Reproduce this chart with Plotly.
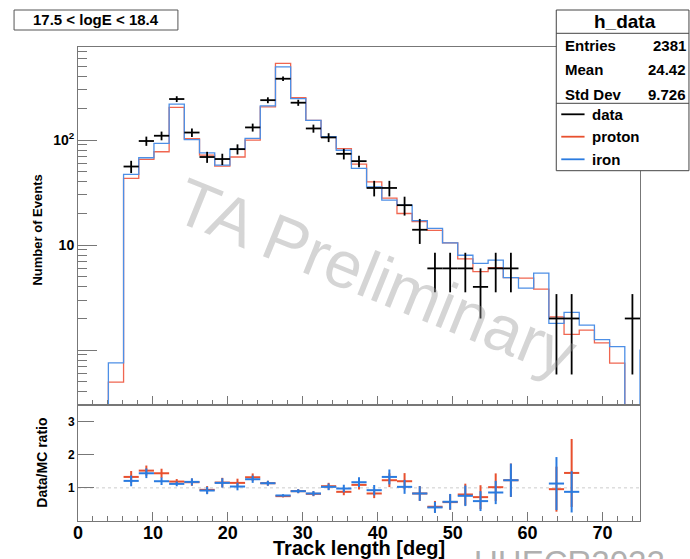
import numpy as np
import plotly.graph_objects as go

# ---------------- data ----------------
n_bins = 37
x_min, x_max = 0.0, 75.0

data_counts = [0, 0, 0, 56, 98, 110, 246, 118, 69, 66, 82, 132, 240, 384, 227, 129,
               106, 74, 63, 35, 35, 24, 14, 6, 6, 6, 4, 6, 6, 0, 0, 2, 2, 0, 0, 0, 2]

# MC histograms (last entry = bin just beyond the axis range)
proton = [0, 0, 0.495, 43.2, 65.5, 77.4, 205, 103, 72, 56.6, 69, 100, 207, 537, 253, 154,
          106, 83, 59, 40, 28, 20, 16.7, 13.8, 10.5, 7.4, 5.6, 6.1, 4.9, 4.85, 3.8, 2.07,
          1.41, 1.55, 1.17, 0.75, 0, 0]
iron = [0, 0, 0.757, 47.1, 67.9, 93, 220, 101, 75.7, 57.8, 82, 104, 212, 499, 248, 154,
        108, 80, 53.7, 35.9, 26.8, 24, 17.1, 14.4, 10.5, 8.0, 6.7, 7.2, 4.9, 3.9, 5.4, 1.8,
        2.29, 1.73, 1.26, 1.08, 0, 1.0]

ratio_proton = [None, None, None, 1.33, 1.52, 1.44, 1.19, 1.17, 0.94, 1.16, 1.15, 1.32, 1.14,
                0.75, 0.90, 0.82, 1.05, 0.88, 1.09, 0.83, 1.23, 1.20, 0.83, 0.43, 0.57, 0.80,
                0.72, 1.02, 1.23, None, None, 0.96, 1.45, None, None, None, None]
ratio_iron = [None, None, None, 1.21, 1.44, 1.20, 1.12, 1.18, 0.92, 1.15, 1.04, 1.26, 1.14,
              0.77, 0.90, 0.83, 1.03, 0.98, 1.17, 0.93, 1.33, 1.03, 0.83, 0.41, 0.58, 0.76,
              0.60, 0.86, 1.23, None, None, 1.13, 0.88, None, None, None, None]

energy_label = "17.5 < logE < 18.4"
stats_title = "h_data"
stats_labels = ["Entries", "Mean", "Std Dev"]
stats_values = ["2381", "24.42", "9.726"]
legend_labels = ["data", "proton", "iron"]
x_title = "Track length [deg]"
y_title_main = "Number of Events"
y_title_ratio = "Data/MC ratio"
watermark = "TA Preliminary"
conference = "UHECR2022"

# ---------------- styles ----------------
FONT = "Liberation Sans, Arial, Helvetica, sans-serif"
RED_H = "#f06650"
BLUE_H = "#4d8fe6"
RED_R = "#e8502e"
BLUE_R = "#2a7be0"
FRAME = "#777777"

W, H = 690, 559
L, R, T, B = 78, 49.5, 47, 38
PW, PH = W - L - R, H - T - B
split = 116 / PH


def px(x):
    return (x - L) / PW


def py(y):
    return (H - B - y) / PH


bw = (x_max - x_min) / n_bins
edges = x_min + bw * np.arange(len(proton) + 1)
centers = x_min + bw * (np.arange(n_bins) + 0.5)
floor = 1e-3

fig = go.Figure()

# MC step histograms
for vals, col, name in [(proton, RED_H, "proton"), (iron, BLUE_H, "iron")]:
    yv = [v if v > 0 else floor for v in vals]
    yv = yv + [yv[-1]]
    fig.add_trace(go.Scatter(x=edges, y=yv, mode="lines", line=dict(color=col, width=1.3, shape="hv"),
                             name=name, showlegend=False, xaxis="x", yaxis="y", hoverinfo="skip"))

# data crosses
dc = np.array(data_counts, dtype=float)
mask = dc > 0
fig.add_trace(go.Scatter(
    x=centers[mask], y=dc[mask], mode="markers", marker=dict(size=1, color="black"),
    error_y=dict(type="data", array=np.sqrt(dc[mask]), thickness=1.8, width=0, color="black"),
    error_x=dict(type="data", array=np.full(mask.sum(), bw / 2), thickness=1.8, width=0, color="black"),
    showlegend=False, xaxis="x", yaxis="y"))

# ratio crosses (red first, blue on top)
for rat, col in [(ratio_proton, RED_R), (ratio_iron, BLUE_R)]:
    xs, ys, es = [], [], []
    for k, r in enumerate(rat):
        if r is None:
            continue
        xs.append(centers[k])
        ys.append(r)
        es.append(r / np.sqrt(data_counts[k]))
    fig.add_trace(go.Scatter(
        x=xs, y=ys, mode="markers", marker=dict(size=1, color=col),
        error_y=dict(type="data", array=es, thickness=2, width=0, color=col),
        error_x=dict(type="data", array=[bw / 2] * len(xs), thickness=2, width=0, color=col),
        showlegend=False, xaxis="x2", yaxis="y2"))

minor_main = [m * 10.0 ** e for e in (-1, 0, 1, 2) for m in range(2, 10)]

fig.update_layout(
    width=W, height=H, margin=dict(l=L, r=R, t=T, b=B, pad=0),
    paper_bgcolor="white", plot_bgcolor="white", showlegend=False,
    font=dict(family=FONT, color="black"),
    xaxis=dict(domain=[0, 1], anchor="y", range=[x_min, x_max], showticklabels=False,
               showline=True, linecolor=FRAME, linewidth=1, mirror=True, showgrid=False, zeroline=False,
               ticks="inside", ticklen=9, tickcolor=FRAME, dtick=10, tick0=0,
               minor=dict(ticks="inside", ticklen=5, dtick=2, tick0=0, tickcolor=FRAME)),
    yaxis=dict(domain=[split, 1], anchor="x", type="log", range=[np.log10(0.3), np.log10(770)],
               showline=True, linecolor=FRAME, linewidth=1, mirror=True, showgrid=False, zeroline=False,
               tickmode="array", tickvals=[1, 10, 100], ticktext=["", "10", "10<sup>2</sup>"],
               ticks="inside", ticklen=19, tickcolor=FRAME,
               tickfont=dict(size=14, family=FONT, weight="bold"),
               minor=dict(ticks="inside", ticklen=9, tickmode="array", tickvals=minor_main, tickcolor=FRAME)),
    xaxis2=dict(domain=[0, 1], anchor="y2", matches="x", range=[x_min, x_max],
                showline=True, linecolor=FRAME, linewidth=1, mirror=True, showgrid=False, zeroline=False,
                ticks="inside", ticklen=9, tickcolor=FRAME, dtick=10, tick0=0,
                ticklabelstandoff=-5,
                tickfont=dict(size=18, family=FONT, weight="bold"),
                minor=dict(ticks="inside", ticklen=5, dtick=2, tick0=0, tickcolor=FRAME)),
    yaxis2=dict(domain=[0, split], anchor="x2", range=[0, 3.5],
                showline=True, linecolor=FRAME, linewidth=1, mirror=True, showgrid=False, zeroline=False,
                tickmode="array", tickvals=[1, 2, 3], ticks="inside", ticklen=16, tickcolor=FRAME,
                tickfont=dict(size=12, family=FONT, weight="bold")),
)

# dotted line at ratio 1
fig.add_shape(type="line", xref="x2", yref="y2", x0=x_min, x1=x_max, y0=1, y1=1,
              line=dict(color="#cccccc", width=1, dash="dot"), layer="below")

# energy label box
fig.add_shape(type="rect", xref="paper", yref="paper", x0=px(14), x1=px(178), y0=py(30), y1=py(10),
              line=dict(color="#555", width=1), fillcolor="white")
fig.add_annotation(x=px(96), y=py(20), xref="paper", yref="paper", text=energy_label, showarrow=False,
                   font=dict(size=15, family=FONT, weight="bold"), xanchor="center", yanchor="middle")

# stats box + legend
bx0, bx1 = 556.7, 689.5
fig.add_shape(type="rect", xref="paper", yref="paper", x0=px(bx0), x1=px(bx1), y0=py(170.7), y1=py(10),
              line=dict(color="#444", width=1), fillcolor="white", layer="above")
for yy in (33.3, 103.3):
    fig.add_shape(type="line", xref="paper", yref="paper", x0=px(bx0), x1=px(bx1), y0=py(yy), y1=py(yy),
                  line=dict(color="#444", width=1))
fig.add_annotation(x=px(625), y=py(21.7), xref="paper", yref="paper", text=stats_title, showarrow=False,
                   font=dict(size=19, family=FONT, weight="bold"), xanchor="center", yanchor="middle")
for i, (lab, val) in enumerate(zip(stats_labels, stats_values)):
    yy = [45.5, 69.5, 94][i]
    fig.add_annotation(x=px(563), y=py(yy), xref="paper", yref="paper", text=lab, showarrow=False,
                       font=dict(size=15, family=FONT, weight="bold"), xanchor="left", yanchor="middle")
    fig.add_annotation(x=px(688.5), y=py(yy), xref="paper", yref="paper", text=val, showarrow=False,
                       font=dict(size=15, family=FONT, weight="bold"), xanchor="right", yanchor="middle")
for i, (lab, col) in enumerate(zip(legend_labels, ["black", RED_R, BLUE_R])):
    yy = [114.3, 136.7, 159.3][i]
    fig.add_shape(type="line", xref="paper", yref="paper", x0=px(561.7), x1=px(585), y0=py(yy), y1=py(yy),
                  line=dict(color=col, width=1.8))
    fig.add_annotation(x=px(590.5), y=py(yy), xref="paper", yref="paper", text=lab, showarrow=False,
                       font=dict(size=15, family=FONT, weight="bold"), xanchor="left", yanchor="middle")

# axis titles
fig.add_annotation(x=px(37.5), y=py(230), xref="paper", yref="paper", text=y_title_main, showarrow=False,
                   textangle=-90, font=dict(size=13, family=FONT, weight="bold"), xanchor="center", yanchor="middle")
fig.add_annotation(x=px(41.7), y=py(463), xref="paper", yref="paper", text=y_title_ratio, showarrow=False,
                   textangle=-90, font=dict(size=14, family=FONT, weight="bold"), xanchor="center", yanchor="middle")
fig.add_annotation(x=px(359.5), y=py(548), xref="paper", yref="paper", text=x_title, showarrow=False,
                   font=dict(size=20, family=FONT, weight="bold"), xanchor="center", yanchor="middle")

# watermarks
fig.add_annotation(x=px(376), y=py(277), xref="paper", yref="paper", text=watermark, showarrow=False,
                   textangle=22, font=dict(size=66, family=FONT, color="rgba(150,150,150,0.40)"),
                   xanchor="center", yanchor="middle")
fig.add_annotation(x=px(570), y=py(542), xref="paper", yref="paper", text=conference, showarrow=False,
                   font=dict(size=33, family=FONT, color="#b0b0b0"), xanchor="center", yanchor="top")

fig.write_html("out.html")
